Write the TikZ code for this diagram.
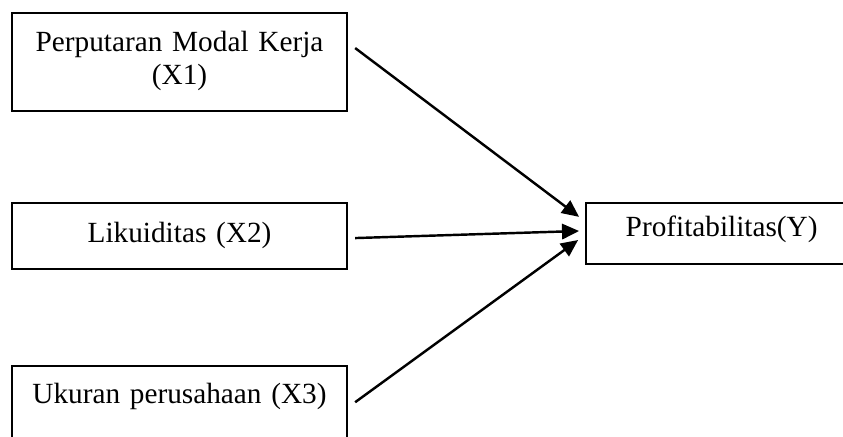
\documentclass[tikz,border=0pt]{standalone}
\usepackage{fontspec}
\setmainfont{Liberation Serif}
\usetikzlibrary{arrows.meta, calc}

\begin{document}
\begin{tikzpicture}[
    var/.style={draw, line width=0.8pt, inner sep=0pt, outer sep=0pt,
        anchor=north west, text width=137.4pt, align=center,
        font=\fontsize{12}{13.5}\selectfont},
    dep/.style={var, text width=111.1pt},
    infl/.style={-{Triangle[length=7pt, width=6.3pt]}, line width=1pt},
]
\def\W{345.6pt}   % frame width
\def\H{178.8pt}   % frame height
\def\xl{4.9pt}    % left edge of the X boxes
\def\xy{240.3pt}  % left edge of the Y box

% frame (boxes run past its lower and right edges)
\useasboundingbox (0,0) rectangle (\W,-\H);
\clip (0,0) rectangle (\W,-\H);

% independent variables
\node[var, text height=16pt, text depth=24.2pt] (x1) at (\xl,-5.3pt)
      {Perputaran Modal Kerja\\(X1)};
\node[var, text height=16.4pt, text depth=10.7pt] (x2) at (\xl,-83.2pt)
      {Likuiditas (X2)};
\node[var, text height=15.2pt, text depth=27.5pt] (x3) at (\xl,-150.1pt)
      {Ukuran perusahaan (X3)};
% dependent variable
\node[dep, text height=13.9pt, text depth=11.1pt] (y) at (\xy,-83.2pt)
      {Profitabilitas(Y)};

% influences
\draw[infl] ([shift={(3.3pt,-14.4pt)}]x1.north east)
         -- ([shift={(-2.9pt,-5.7pt)}]y.north west);
\draw[infl] ([shift={(3.3pt,-14.4pt)}]x2.north east)
         -- ([shift={(-2.9pt,-11.5pt)}]y.north west);
\draw[infl] ([shift={(3.3pt,-14.8pt)}]x3.north east)
         -- ([shift={(-3.3pt,-15.2pt)}]y.north west);
\end{tikzpicture}
\end{document}
